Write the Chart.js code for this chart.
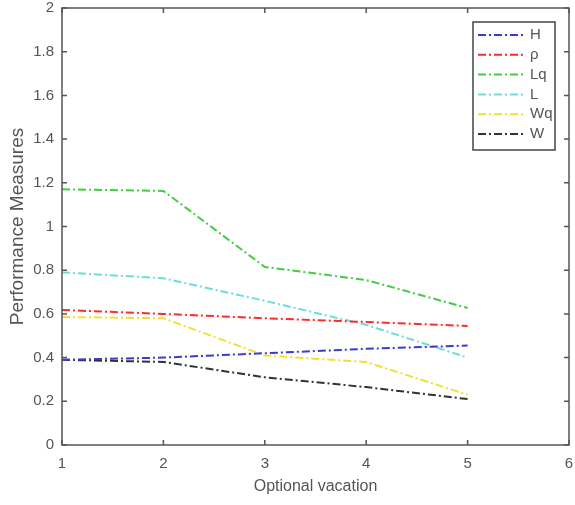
<!DOCTYPE html>
<html>
<head>
<meta charset="utf-8">
<script src="https://cdn.jsdelivr.net/npm/chart.js@4"></script>
<style>
  html, body { margin: 0; padding: 0; background: #fff; }
  #wrap { width: 575px; height: 505px; }
</style>
</head>
<body>
<div id="wrap"><canvas id="myChart" width="575" height="505"></canvas></div>
<script>
// valores
const vacations = [1, 2, 3, 4, 5];
const H  = [0.39, 0.40, 0.42, 0.44, 0.455];
const rho = [0.618, 0.60, 0.58, 0.563, 0.545];
const Lq = [1.17, 1.163, 0.815, 0.755, 0.627];
const L  = [0.79, 0.763, 0.66, 0.55, 0.40];
const Wq = [0.586, 0.58, 0.41, 0.38, 0.23];
const W  = [0.39, 0.38, 0.31, 0.265, 0.21];
const xTicks = [1, 2, 3, 4, 5, 6];
const yTicks = [0, 0.2, 0.4, 0.6, 0.8, 1, 1.2, 1.4, 1.6, 1.8, 2];

const dashDot = [8, 3, 2, 3];
const axisColor = '#555';
const textColor = '#555';
const fontFamily = '"Liberation Sans", Arial, sans-serif';

const mkSet = (label, values, color) => ({
    label: label,
    data: vacations.map((v, i) => ({ x: v, y: values[i] })),
    borderColor: color,
    backgroundColor: color,
    borderWidth: 2,
    borderDash: dashDot,
    pointRadius: 0,
    tension: 0
});

// caja, ticks hacia dentro y leyenda estilo matlab
const boxPlugin = {
    id: 'boxPlugin',
    afterDraw(chart) {
        const { ctx, chartArea: a, scales } = chart;
        ctx.save();
        ctx.strokeStyle = axisColor;
        ctx.lineWidth = 1.5;
        ctx.setLineDash([]);
        ctx.strokeRect(a.left, a.top, a.right - a.left, a.bottom - a.top);
        ctx.beginPath();
        yTicks.forEach(t => {
            const y = scales.y.getPixelForValue(t);
            ctx.moveTo(a.left, y); ctx.lineTo(a.left + 5, y);
            ctx.moveTo(a.right, y); ctx.lineTo(a.right - 5, y);
        });
        xTicks.forEach(t => {
            const x = scales.x.getPixelForValue(t);
            ctx.moveTo(x, a.bottom); ctx.lineTo(x, a.bottom - 5);
            ctx.moveTo(x, a.top); ctx.lineTo(x, a.top + 5);
        });
        ctx.stroke();

        // leyenda
        const bx = a.right - 96, by = a.top + 14, bw = 82, bh = 128;
        ctx.fillStyle = '#fff';
        ctx.fillRect(bx, by, bw, bh);
        ctx.strokeStyle = '#444';
        ctx.lineWidth = 1.5;
        ctx.strokeRect(bx, by, bw, bh);
        ctx.font = '15px ' + fontFamily;
        ctx.textBaseline = 'middle';
        chart.data.datasets.forEach((ds, i) => {
            const y = by + 13 + i * 19.8;
            ctx.strokeStyle = ds.borderColor;
            ctx.lineWidth = 2;
            ctx.setLineDash(dashDot);
            ctx.beginPath();
            ctx.moveTo(bx + 5, y); ctx.lineTo(bx + 52, y);
            ctx.stroke();
            ctx.setLineDash([]);
            ctx.fillStyle = textColor;
            ctx.fillText(ds.label, bx + 57, y);
        });
        ctx.restore();
    }
};

const ctx = document.getElementById('myChart');
new Chart(ctx, {
    type: 'line',
    data: {
        datasets: [
            mkSet('H', H, '#3c3cc8'),
            mkSet('ρ', rho, '#ff2a2a'),
            mkSet('Lq', Lq, '#44cc44'),
            mkSet('L', L, '#6edcdc'),
            mkSet('Wq', Wq, '#f0e030'),
            mkSet('W', W, '#333333')
        ]
    },
    options: {
        responsive: false,
        animation: false,
        layout: { padding: { left: 0, right: 6, top: 8, bottom: 0 } },
        plugins: {
            legend: { display: false },
            tooltip: { enabled: false }
        },
        scales: {
            x: {
                type: 'linear',
                min: 1, max: 6,
                afterFit: s => { s.height = 60; s.paddingLeft = 0; s.paddingRight = 0; },
                afterBuildTicks: s => { s.ticks = xTicks.map(v => ({ value: v })); },
                grid: { display: false },
                border: { display: false },
                ticks: { color: textColor, padding: 2, font: { size: 15, family: fontFamily } },
                title: { display: true, text: 'Optional vacation', color: textColor, padding: { top: 2, bottom: 9 }, font: { size: 16, family: fontFamily } }
            },
            y: {
                min: 0, max: 2,
                afterFit: s => { s.width = 62; s.paddingTop = 0; s.paddingBottom = 0; },
                afterBuildTicks: s => { s.ticks = yTicks.map(v => ({ value: v })); },
                grid: { display: false },
                border: { display: false },
                ticks: { color: textColor, padding: 0, font: { size: 15, family: fontFamily }, callback: v => String(v) },
                title: { display: true, text: 'Performance Measures', color: textColor, padding: { top: 6, bottom: 0 }, font: { size: 19, family: fontFamily } }
            }
        }
    },
    plugins: [boxPlugin]
});
</script>
</body>
</html>
